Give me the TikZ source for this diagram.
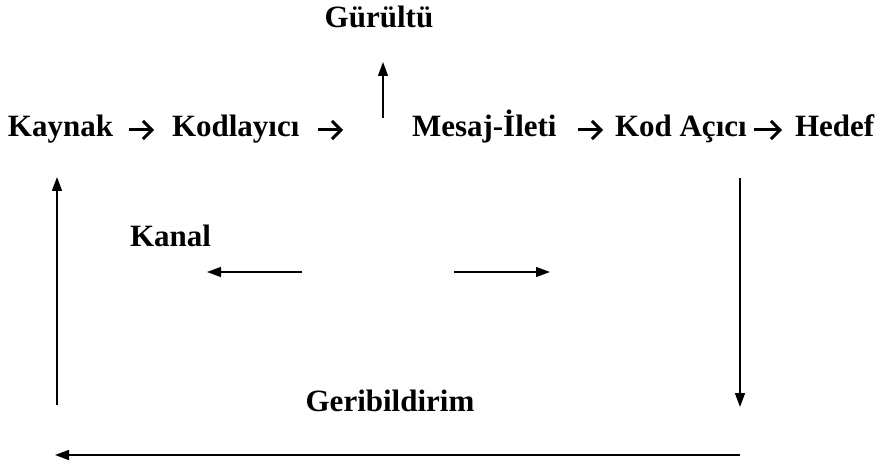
\documentclass[tikz,border=0pt]{standalone}
\usepackage{fontspec}
\setmainfont{Liberation Serif}
\usetikzlibrary{arrows.meta}
\begin{document}
\begin{tikzpicture}[x=1pt,y=-1pt,
  lbl/.style={inner sep=0pt,outer sep=0pt,font=\fontsize{31}{37}\selectfont\bfseries},
  txtarrow/.style={line width=3pt,-{Straight Barb[length=9pt,width=18pt]}},
  flow/.style={line width=1.5pt,-{Triangle[length=14pt,width=10pt]}}]
\useasboundingbox (0,0) rectangle (887,468);
% main line
\node[lbl,anchor=base west] (kaynak) at (8,137) {Kaynak};
\node[lbl,anchor=base west] (kodlayici) at (172,137) {Kodlayıcı};
\node[lbl,anchor=base west] (mesaj) at (412,137) {Mesaj-İleti};
\node[lbl,anchor=base west] (kodacici) at (615,137) {Kod Açıcı};
\node[lbl,anchor=base west] (hedef) at (795,137) {Hedef};
\node[lbl,anchor=base] (gurultu) at (379,28) {Gürültü};
\node[lbl,anchor=base west] (kanal) at (130,247) {Kanal};
\node[lbl,anchor=base] (geri) at (390,411) {Geribildirim};
% coordinates
\coordinate (k2s) at (318,130);
\coordinate (k2end) at (343,130);
\coordinate (noiseS) at (383,118);
\coordinate (noiseN) at (383,62);
\coordinate (chLs) at (302,272);
\coordinate (chLe) at (207,272);
\coordinate (chRs) at (454,272);
\coordinate (chRe) at (550,272);
\coordinate (rTop) at (740,178);
\coordinate (rBot) at (740,407);
\coordinate (bR) at (740,455);
\coordinate (bL) at (55,455);
\coordinate (lBot) at (57,405);
\coordinate (lTop) at (57,177);
% text arrows
\draw[txtarrow] ([xshift=16pt,yshift=7pt]kaynak.base east) -- ([xshift=-18pt,yshift=7pt]kodlayici.base west);
\draw[txtarrow] (k2s) -- (k2end);
\draw[txtarrow] ([xshift=21pt,yshift=7pt]mesaj.base east) -- ([xshift=-12pt,yshift=7pt]kodacici.base west);
\draw[txtarrow] ([xshift=7pt,yshift=7pt]kodacici.base east) -- ([xshift=-13pt,yshift=7pt]hedef.base west);
% flow arrows
\draw[flow] (noiseS) -- (noiseN);
\draw[flow] (chLs) -- (chLe);
\draw[flow] (chRs) -- (chRe);
\draw[flow] (rTop) -- (rBot);
\draw[flow] (bR) -- (bL);
\draw[flow] (lBot) -- (lTop);
\end{tikzpicture}
\end{document}
